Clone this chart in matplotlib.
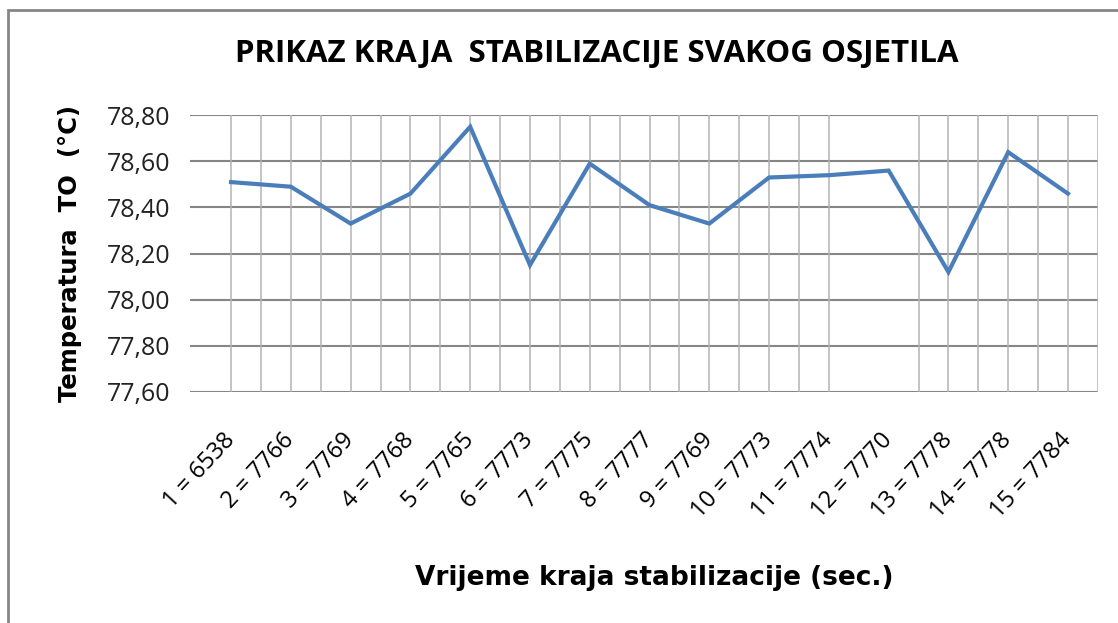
import numpy as np
import matplotlib.pyplot as plt
from matplotlib.ticker import FuncFormatter
from matplotlib.patches import Rectangle

# vrijeme kraja stabilizacije za svako osjetilo
oznake = ['1 = 6538', '2 = 7766', '3 = 7769', '4 = 7768', '5 = 7765',
          '6 = 7773', '7 = 7775', '8 = 7777', '9 = 7769', '10 = 7773',
          '11 = 7774', '12 = 7770', '13 = 7778', '14 = 7778', '15 = 7784']
temperatura = [78.51, 78.49, 78.33, 78.46, 78.75, 78.15, 78.59, 78.41,
               78.33, 78.53, 78.54, 78.56, 78.12, 78.64, 78.46]

fig = plt.figure(figsize=(11.18, 6.23), dpi=100)
ax = fig.add_axes([0.170, 0.371, 0.812, 0.444])

x = np.arange(len(temperatura))
ax.plot(x, temperatura, color='#4a7ebb', lw=3, solid_joinstyle='miter', zorder=3)

ax.set_xlim(-0.686, len(temperatura) - 0.5)
ax.set_ylim(77.6, 78.8)
ax.set_yticks(np.arange(77.6, 78.81, 0.2))
ax.yaxis.set_major_formatter(FuncFormatter(lambda v, p: f'{v:.2f}'.replace('.', ',')))

# mreza: vodoravne tamnije, okomite svjetlije (svaka pola kategorije)
for yv in ax.get_yticks():
    ax.axhline(yv, color='#868686', lw=1.5, zorder=1)
for xv in np.arange(0, len(temperatura), 0.5):
    if xv in (10.5, 11.0):
        continue
    ax.axvline(xv, color='#b3b3b3', lw=1.1, zorder=1)

for s in ax.spines.values():
    s.set_visible(False)
ax.tick_params(length=0)
ax.tick_params(axis='y', labelsize=18, pad=14)
for t in ax.get_yticklabels():
    t.set_family('Open Sans')
    t.set_color('#222222')

ax.set_xticks(x)
ax.set_xticklabels(oznake, rotation=47, ha='right', va='center',
                   rotation_mode='anchor', fontsize=17, family='Open Sans')
ax.tick_params(axis='x', pad=32)

ax.set_ylabel('Temperatura  TO  (°C)', fontsize=17.5, fontweight='bold',
              family='DejaVu Sans', labelpad=18)
fig.text(0.585, 0.072, 'Vrijeme kraja stabilizacije (sec.)', fontsize=19,
         fontweight='bold', family='DejaVu Sans', ha='center', va='center')
fig.text(0.534, 0.913, 'PRIKAZ KRAJA  STABILIZACIJE SVAKOG OSJETILA',
         fontsize=22.5, fontweight='bold', family='Open Sans',
         ha='center', va='center')

# okvir grafikona
fig.add_artist(Rectangle((8 / 1118, -0.01), 1.2, 1 - 10 / 623 + 0.01,
                         transform=fig.transFigure, fill=False,
                         edgecolor='#868686', lw=2))

fig.savefig('out.png', dpi=100)
